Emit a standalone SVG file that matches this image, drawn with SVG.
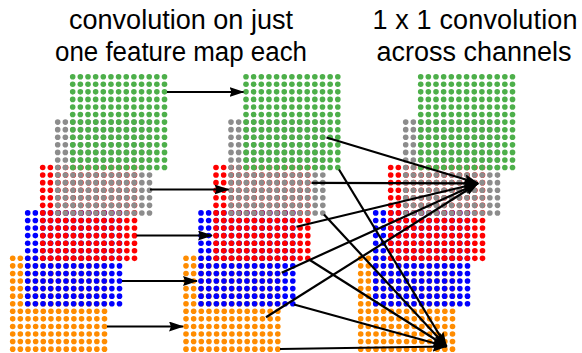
<svg xmlns="http://www.w3.org/2000/svg" xmlns:xlink="http://www.w3.org/1999/xlink" width="582" height="353" viewBox="0 0 582 353">
<style>
.t{font-family:"Liberation Sans","DejaVu Sans",sans-serif;font-size:27px;fill:#000;text-anchor:middle}
.gr{fill:#4daf4a}.gy{fill:#8c8c8c}.rd{fill:#ff0000}.bl{fill:#0000ff}.or{fill:#ff8c00}
.ln{stroke:#000;stroke-width:2.2;fill:none}
.ar{marker-end:url(#ah)}
</style>
<defs>
<marker id="ah" markerUnits="userSpaceOnUse" markerWidth="17" markerHeight="12" refX="14" refY="5" orient="auto" viewBox="0 0 17 12">
<path d="M0,0 L15,5 L0,10 L2,5 Z" fill="#000"/>
</marker>
<g id="row">
<circle cx="0" cy="0" r="2.8"/><circle cx="7.65" cy="0" r="2.8"/><circle cx="15.3" cy="0" r="2.8"/><circle cx="22.95" cy="0" r="2.8"/><circle cx="30.6" cy="0" r="2.8"/><circle cx="38.25" cy="0" r="2.8"/><circle cx="45.9" cy="0" r="2.8"/><circle cx="53.55" cy="0" r="2.8"/><circle cx="61.2" cy="0" r="2.8"/><circle cx="68.85" cy="0" r="2.8"/><circle cx="76.5" cy="0" r="2.8"/><circle cx="84.15" cy="0" r="2.8"/><circle cx="91.8" cy="0" r="2.8"/>
</g>
<g id="grid">
<use xlink:href="#row" y="0"/><use xlink:href="#row" y="7.57"/><use xlink:href="#row" y="15.14"/><use xlink:href="#row" y="22.71"/><use xlink:href="#row" y="30.28"/><use xlink:href="#row" y="37.85"/><use xlink:href="#row" y="45.42"/><use xlink:href="#row" y="52.99"/><use xlink:href="#row" y="60.56"/><use xlink:href="#row" y="68.13"/><use xlink:href="#row" y="75.7"/><use xlink:href="#row" y="83.27"/><use xlink:href="#row" y="90.84"/>
</g>
</defs>
<g id="title-left">
<text class="t" x="181" y="29" textLength="224" lengthAdjust="spacingAndGlyphs">convolution on just</text>
<text class="t" x="181" y="61" textLength="252" lengthAdjust="spacingAndGlyphs">one feature map each</text>
</g>
<g id="title-right">
<text class="t" x="475" y="29" textLength="205" lengthAdjust="spacing">1 x 1 convolution</text>
<text class="t" x="474" y="61">across channels</text>
</g>
<g id="input-maps">
<use xlink:href="#grid" class="or" x="12.7" y="258.3"/>
<use xlink:href="#grid" class="bl" x="27.7" y="212.9"/>
<use xlink:href="#grid" class="rd" x="42.7" y="167.5"/>
<use xlink:href="#grid" class="gy" x="57.7" y="122.1"/>
<use xlink:href="#grid" class="gr" x="72.7" y="76.7"/>
</g>
<g id="depthwise-maps">
<use xlink:href="#grid" class="or" x="186" y="258.3"/>
<use xlink:href="#grid" class="bl" x="201" y="212.9"/>
<use xlink:href="#grid" class="rd" x="216" y="167.5"/>
<use xlink:href="#grid" class="gy" x="231" y="122.1"/>
<use xlink:href="#grid" class="gr" x="246" y="76.7"/>
</g>
<g id="pointwise-maps">
<use xlink:href="#grid" class="or" x="360.7" y="258.3"/>
<use xlink:href="#grid" class="bl" x="375.7" y="212.9"/>
<use xlink:href="#grid" class="rd" x="390.7" y="167.5"/>
<use xlink:href="#grid" class="gy" x="405.7" y="122.1"/>
<use xlink:href="#grid" class="gr" x="420.7" y="76.7"/>
</g>
<g id="connectors" class="ln">
<path class="ar" d="M167 92 H243.5"/>
<path class="ar" d="M150 189.5 H228.5"/>
<path class="ar" d="M136.5 235.5 H212"/>
<path class="ar" d="M122 281 H197"/>
<path class="ar" d="M107 326.5 H183"/>
<path class="ar" d="M326.5 137.5 L478 183.3"/>
<path class="ar" d="M311.5 182.8 L478 183.3"/>
<path class="ar" d="M296.5 226.7 L478 183.3"/>
<path class="ar" d="M281.7 272.7 L478 183.3"/>
<path class="ar" d="M266 317.3 L478 183.3"/>
<path class="ar" d="M339 169.5 L446.5 346.5"/>
<path class="ar" d="M324 214.5 L446.5 346.5"/>
<path class="ar" d="M309 259.5 L446.5 346.5"/>
<path class="ar" d="M294 304.5 L446.5 346.5"/>
<path class="ar" d="M280 349 L446.5 346.5"/>
</g>
</svg>
